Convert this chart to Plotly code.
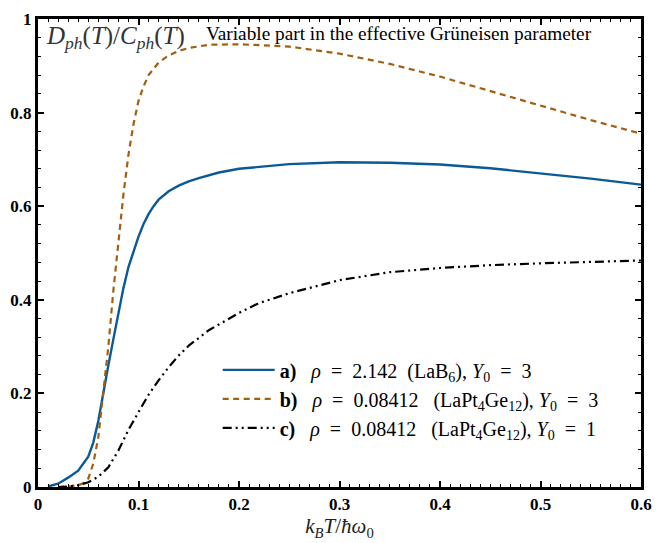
import plotly.graph_objects as go

# x values: k_B T / (hbar omega_0)
x_a = [0.01, 0.02, 0.03, 0.04, 0.05, 0.055, 0.06, 0.065, 0.07, 0.075, 0.08, 0.085, 0.09, 0.095,
       0.10, 0.105, 0.11, 0.115, 0.12, 0.13, 0.14, 0.15, 0.16, 0.18, 0.20, 0.25, 0.30, 0.35, 0.40,
       0.45, 0.50, 0.55, 0.60]
y_a = [0.001, 0.007, 0.02, 0.035, 0.065, 0.095, 0.141, 0.204, 0.26, 0.316, 0.37, 0.425, 0.47, 0.505,
       0.535, 0.562, 0.583, 0.600, 0.614, 0.632, 0.644, 0.653, 0.660, 0.672, 0.680, 0.690, 0.694,
       0.693, 0.689, 0.681, 0.670, 0.659, 0.646]

x_b = [0.02, 0.03, 0.04, 0.045, 0.05, 0.055, 0.06, 0.065, 0.07, 0.075, 0.08, 0.085, 0.09, 0.095,
       0.10, 0.105, 0.11, 0.12, 0.13, 0.14, 0.15, 0.17, 0.20, 0.25, 0.30, 0.35, 0.40, 0.45, 0.50, 0.55, 0.60]
y_b = [0.0, 0.001, 0.004, 0.008, 0.018, 0.05, 0.106, 0.21, 0.30, 0.42, 0.525, 0.625, 0.71, 0.775,
       0.825, 0.856, 0.880, 0.907, 0.922, 0.932, 0.938, 0.945, 0.946, 0.941, 0.926, 0.904, 0.877,
       0.846, 0.815, 0.784, 0.755]

x_c = [0.02, 0.03, 0.04, 0.05, 0.06, 0.07, 0.08, 0.09, 0.10, 0.11, 0.12, 0.13, 0.14, 0.15,
       0.17, 0.20, 0.22, 0.25, 0.30, 0.35, 0.40, 0.45, 0.50, 0.55, 0.60]
y_c = [0.0, 0.001, 0.004, 0.01, 0.022, 0.042, 0.078, 0.122, 0.16, 0.197, 0.228, 0.256, 0.281, 0.302,
       0.335, 0.372, 0.393, 0.414, 0.442, 0.459, 0.468, 0.474, 0.478, 0.481, 0.484]

EQ = "&nbsp;&nbsp;=&nbsp;&nbsp;"
names = [
    "<b>a)</b>&nbsp;&nbsp; <i>ρ</i>" + EQ + "2.142&nbsp; (LaB<sub>6</sub>),&nbsp;<i>Y</i><sub>0</sub>" + EQ + "3",
    "<b>b)</b>&nbsp;&nbsp; <i>ρ</i>" + EQ + "0.08412&nbsp;&nbsp; (LaPt<sub>4</sub>Ge<sub>12</sub>),&nbsp;<i>Y</i><sub>0</sub>" + EQ + "3",
    "<b>c)</b>&nbsp;&nbsp; <i>ρ</i>" + EQ + "0.08412&nbsp;&nbsp; (LaPt<sub>4</sub>Ge<sub>12</sub>),&nbsp;<i>Y</i><sub>0</sub>" + EQ + "1",
]
x_ticks = [0, 0.1, 0.2, 0.3, 0.4, 0.5, 0.6]
x_tick_labels = ["0", "0.1", "0.2", "0.3", "0.4", "0.5", "0.6"]
y_ticks = [0, 0.2, 0.4, 0.6, 0.8, 1.0]
y_tick_labels = ["0", "0.2", "0.4", "0.6", "0.8", "1"]

SERIF = "Liberation Serif"
BLUE = "#0b5a95"
BROWN = "#a35f10"

fig = go.Figure()
fig.add_trace(go.Scatter(x=x_a, y=y_a, mode="lines", name=names[0], legendgroup="a",
                         line=dict(color=BLUE, width=2.4)))
fig.add_trace(go.Scatter(x=x_b, y=y_b, mode="lines", name=names[1], legendgroup="b",
                         line=dict(color=BROWN, width=2.2, dash="6px,4.5px")))
fig.add_trace(go.Scatter(x=x_c, y=y_c, mode="lines", name=names[2], legendgroup="c",
                         line=dict(color="black", width=2.2, dash="9px,4px,2px,4px,2px,4px")))

axis_common = dict(
    showline=True, linecolor="black", linewidth=3, mirror="allticks",
    ticks="inside", ticklen=6, tickwidth=1.5, tickcolor="black",
    showgrid=False, zeroline=False,
    tickfont=dict(family=SERIF, size=17, color="black", weight="bold"),
)
fig.update_xaxes(range=[0, 0.6], tickvals=x_ticks, ticktext=x_tick_labels,
                 minor=dict(dtick=0.01, ticks="inside", ticklen=3, tickwidth=1.2, tickcolor="black"),
                 title=dict(text="<i>k</i><sub><i>B</i></sub><i>T</i>/<i>ħω</i><sub>0</sub>",
                            font=dict(family=SERIF, size=21, color="#222"), standoff=2),
                 **axis_common)
fig.update_yaxes(range=[0, 1], tickvals=y_ticks, ticktext=y_tick_labels,
                 minor=dict(dtick=0.04, ticks="inside", ticklen=3, tickwidth=1.2, tickcolor="black"),
                 **axis_common)

fig.add_annotation(x=0.01, y=0.997, xref="paper", yref="paper", xanchor="left", yanchor="top",
                   text="<i>D</i><sub><i>ph</i></sub>(<i>T</i>)/<i>C</i><sub><i>ph</i></sub>(<i>T</i>)",
                   showarrow=False, font=dict(family=SERIF, size=25, color="#333"))
fig.add_annotation(x=0.275, y=0.995, xref="paper", yref="paper", xanchor="left", yanchor="top",
                   text="Variable part in the effective Grüneisen parameter",
                   showarrow=False, font=dict(family=SERIF, size=19.3, color="black"))

fig.update_layout(
    width=662, height=543,
    margin=dict(l=35, r=10, t=11, b=56),
    plot_bgcolor="white", paper_bgcolor="white",
    showlegend=True,
    legend=dict(x=0.298, y=0.292, xanchor="left", yanchor="top",
                bgcolor="rgba(0,0,0,0)", font=dict(family=SERIF, size=20, color="black"),
                tracegroupgap=0, itemwidth=52),
)

fig.write_html("out.html", config={"displayModeBar": False},
               post_script="document.body.style.margin='0';")
